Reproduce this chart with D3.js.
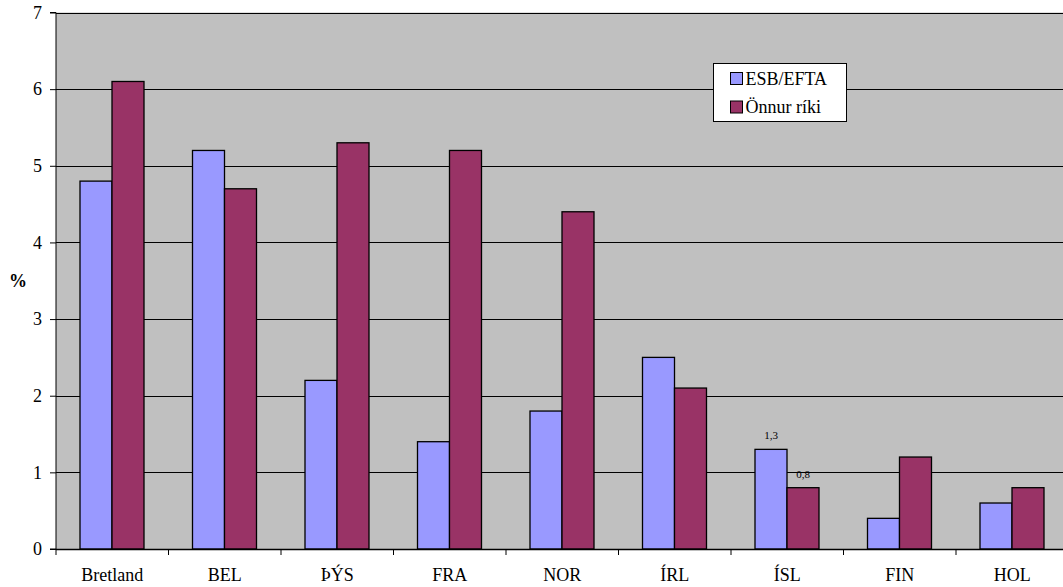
<!DOCTYPE html>
<html><head><meta charset="utf-8">
<script src="https://cdn.jsdelivr.net/npm/d3@7"></script>
<style>body{margin:0;background:#fff}svg{display:block}
svg text{font-family:"Liberation Serif","Times New Roman",Times,serif !important;}
</style>
</head><body>
<svg id="c" width="1063" height="587"></svg>
<script>
const categories = ["Bretland","BEL","ÞÝS","FRA","NOR","ÍRL","ÍSL","FIN","HOL"];
const seriesNames = ["ESB/EFTA","Önnur ríki"];
const esbEfta = [4.8,5.2,2.2,1.4,1.8,2.5,1.3,0.4,0.6];
const onnurRiki = [6.1,4.7,5.3,5.2,4.4,2.1,0.8,1.2,0.8];
const yTicks = [0,1,2,3,4,5,6,7];
const labelledCategory = "ÍSL";

const colors = ["#9999FF","#993366"];
const svg = d3.select("#c");
const L = 56, T = 12.5, B = 549, R = 56 + 9*112.5;
const x = d3.scaleBand().domain(categories).range([L, R]).paddingInner(0).paddingOuter(0);
const y = d3.scaleLinear().domain([0,7]).range([B, T]);

svg.append("rect").attr("x",L).attr("y",T).attr("width",R-L).attr("height",B-T).attr("fill","#C0C0C0");
svg.append("g").selectAll("line").data(yTicks.filter(d=>d>0)).join("line")
  .attr("x1",L).attr("x2",R).attr("y1",d=>Math.round(y(d))+0.5).attr("y2",d=>Math.round(y(d))+0.5)
  .attr("stroke","#000").attr("stroke-width",1);

const bw = 32, off = 24;
const series = [esbEfta, onnurRiki];
series.forEach((vals, si) => {
  svg.append("g").selectAll("rect").data(categories).join("rect")
    .attr("x",(d)=>x(d)+off+si*bw).attr("width",bw)
    .attr("y",(d,i)=>y(vals[i])).attr("height",(d,i)=>B-y(vals[i]))
    .attr("fill",colors[si]).attr("stroke","#000").attr("stroke-width",1.3);
});
const li = categories.indexOf(labelledCategory);
series.forEach((vals, si) => {
  svg.append("text").attr("x",x(labelledCategory)+off+si*bw+bw/2).attr("y",y(vals[li])-10)
    .attr("text-anchor","middle").style("font-size","11px")
    .text(String(vals[li]).replace(".",","));
});

const yAxis = d3.axisLeft(y).tickValues(yTicks).tickSize(6).tickPadding(8).tickFormat(d3.format("d"));
const gy = svg.append("g").attr("transform",`translate(${L},0)`).call(yAxis);
gy.select(".domain").attr("stroke","#000").attr("d",`M-6,${B}H0V${T}H-6`);
gy.selectAll("text").style("font-size","18px").attr("fill","#000");

const xb = d3.scaleLinear().domain([0,9]).range([L,R]);
const gx = svg.append("g").attr("transform",`translate(0,${B})`);
gx.append("line").attr("x1",L).attr("x2",R).attr("y1",0.5).attr("y2",0.5).attr("stroke","#000").attr("stroke-width",1.3);
gx.selectAll("line.t").data(d3.range(0,10)).join("line").attr("class","t")
  .attr("x1",d=>xb(d)).attr("x2",d=>xb(d)).attr("y1",0).attr("y2",6).attr("stroke","#000");
gx.selectAll("text").data(categories).join("text")
  .attr("x",d=>x(d)+x.bandwidth()/2).attr("y",32).attr("text-anchor","middle")
  .style("font-size","18px").text(d=>d);

svg.append("text").attr("x",18).attr("y",287).attr("text-anchor","middle")
  .style("font-size","18px").style("font-weight","bold").text("%");

const lg = svg.append("g").attr("transform","translate(713.5,63.5)");
lg.append("rect").attr("width",133).attr("height",58).attr("fill","#fff").attr("stroke","#000");
seriesNames.forEach((n,i)=>{
  lg.append("rect").attr("x",17).attr("y",9+i*28.5).attr("width",12).attr("height",12)
    .attr("fill",colors[i]).attr("stroke","#000");
  lg.append("text").attr("x",32).attr("y",21+i*28.5).style("font-size","18px").text(n);
});
</script>
</body></html>
